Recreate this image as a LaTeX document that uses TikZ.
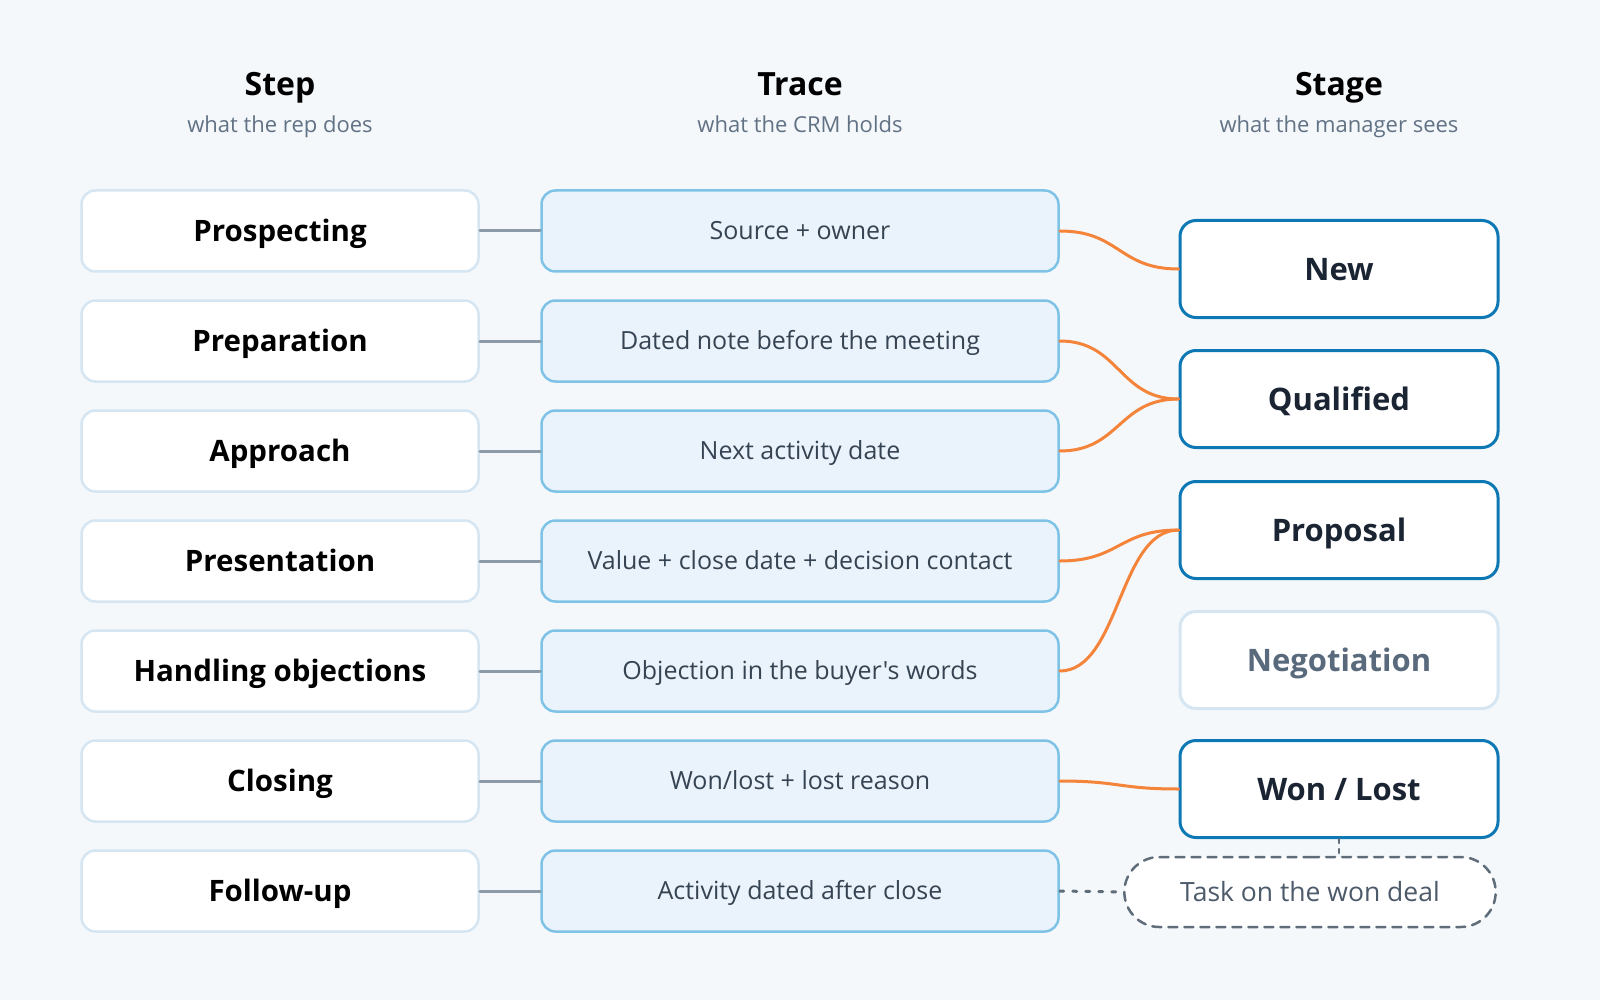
\documentclass[tikz,border=0pt]{standalone}
\usepackage{fontspec}
\setmainfont{Open Sans}[Ligatures=TeXOff]
\usetikzlibrary{positioning}
\usetikzlibrary{shapes.misc}

\definecolor{bgcol}{HTML}{F4F8FB}
\definecolor{stepline}{HTML}{D5E5F1}
\definecolor{traceline}{HTML}{7EC3E6}
\definecolor{tracefill}{HTML}{EAF3FB}
\definecolor{stageline}{HTML}{0E78B5}
\definecolor{stagetext}{HTML}{1A2432}
\definecolor{offtext}{HTML}{5A6A7D}
\definecolor{subtext}{HTML}{627285}
\definecolor{tracetext}{HTML}{364352}
\definecolor{linkgray}{HTML}{8D9BA8}
\definecolor{flow}{HTML}{F5843B}
\definecolor{dashgray}{HTML}{5F6C79}

\begin{document}
\begin{tikzpicture}[x=1pt,y=-1pt,line cap=round,line join=round,
  head/.style={anchor=base, font=\bfseries\fontsize{32}{38}\selectfont, text=black},
  sub/.style={anchor=base, font=\fontsize{22}{26}\selectfont, text=subtext},
  stepbox/.style={draw=stepline, line width=2.5pt, fill=white, rounded corners=14pt,
    minimum width=397pt, minimum height=81pt, text height=21pt, text depth=0pt,
    font=\bfseries\fontsize{29.5}{34}\selectfont},
  tracebox/.style={draw=traceline, line width=2.5pt, fill=tracefill, rounded corners=14pt,
    minimum width=517pt, minimum height=81pt, text height=17.8pt, text depth=0pt,
    text=tracetext, font=\fontsize{25}{28}\selectfont},
  stagebox/.style={draw=stageline, line width=3pt, fill=white, rounded corners=16pt,
    minimum width=318pt, minimum height=97pt, text height=22.2pt, text depth=0pt,
    text=stagetext, font=\bfseries\fontsize{31}{36}\selectfont},
  stageoff/.style={stagebox, draw=stepline, text=offtext},
  taskbox/.style={draw=dashgray, dash pattern=on 9pt off 7pt, line width=2.5pt, fill=white,
    rounded rectangle, minimum width=378pt, minimum height=70pt, text height=19pt, text depth=0pt,
    text=offtext!85!black, font=\fontsize{26.5}{30}\selectfont},
  link/.style={draw=linkgray, line width=3pt},
  flowline/.style={draw=flow, line width=3pt}]

\fill[bgcol] (0,0) rectangle (1600,1000);

% Column heads
\node[head] (stephead) at (280,96) {Step};
\node[sub] (stepsub) at (280,133) {what the rep does};
\node[head] (tracehead) at (800,96) {Trace};
\node[sub] (tracesub) at (800,133) {what the CRM holds};
\node[head] (stagehead) at (1339,96) {Stage};
\node[sub] (stagesub) at (1339,133) {what the manager sees};

% Steps and traces
\foreach \i/\y/\steptext/\tracetext in {
  1/231/Prospecting/Source + owner,
  2/341/Preparation/Dated note before the meeting,
  3/451/Approach/Next activity date,
  4/561/Presentation/Value + close date + decision contact,
  5/671/Handling objections/Objection in the buyer's words,
  6/781/Closing/{Won/lost + lost reason},
  7/891/Follow-up/Activity dated after close
} {
  \node[stepbox] (step\i) at (280,\y) {\steptext};
  \node[tracebox] (trace\i) at (800,\y) {\tracetext};
  \draw[link] (step\i.east) -- (trace\i.west);
}

% Stages
\node[stagebox] (new) at (1339,269) {New};
\node[stagebox] (qualified) at (1339,399) {Qualified};
\node[stagebox] (proposal) at (1339,530) {Proposal};
\node[stageoff] (negotiation) at (1339,660) {Negotiation};
\node[stagebox] (wonlost) at (1339,789) {Won / Lost};
\node[taskbox] (task) at (1310,892) {Task on the won deal};

% Trace to stage
\draw[flowline] (trace1.east) .. controls +(60,0) and +(-60,0) .. (new.west);
\draw[flowline] (trace2.east) .. controls +(60,0) and +(-60,0) .. (qualified.west);
\draw[flowline] (trace3.east) .. controls +(60,0) and +(-60,0) .. (qualified.west);
\draw[flowline] (trace4.east) .. controls +(60,0) and +(-60,0) .. (proposal.west);
\draw[flowline] (trace5.east) .. controls +(60,0) and +(-60,0) .. (proposal.west);
\draw[flowline] (trace6.east) .. controls +(60,0) and +(-60,0) .. (wonlost.west);

% Follow-up task
\draw[draw=dashgray, line width=3pt, dash pattern=on 4pt off 9pt] (trace7.east) -- (task.west);
\draw[draw=dashgray, line width=2.5pt, dash pattern=on 4pt off 6pt] (wonlost.south) -- (wonlost.south |- task.north);

\end{tikzpicture}
\end{document}
